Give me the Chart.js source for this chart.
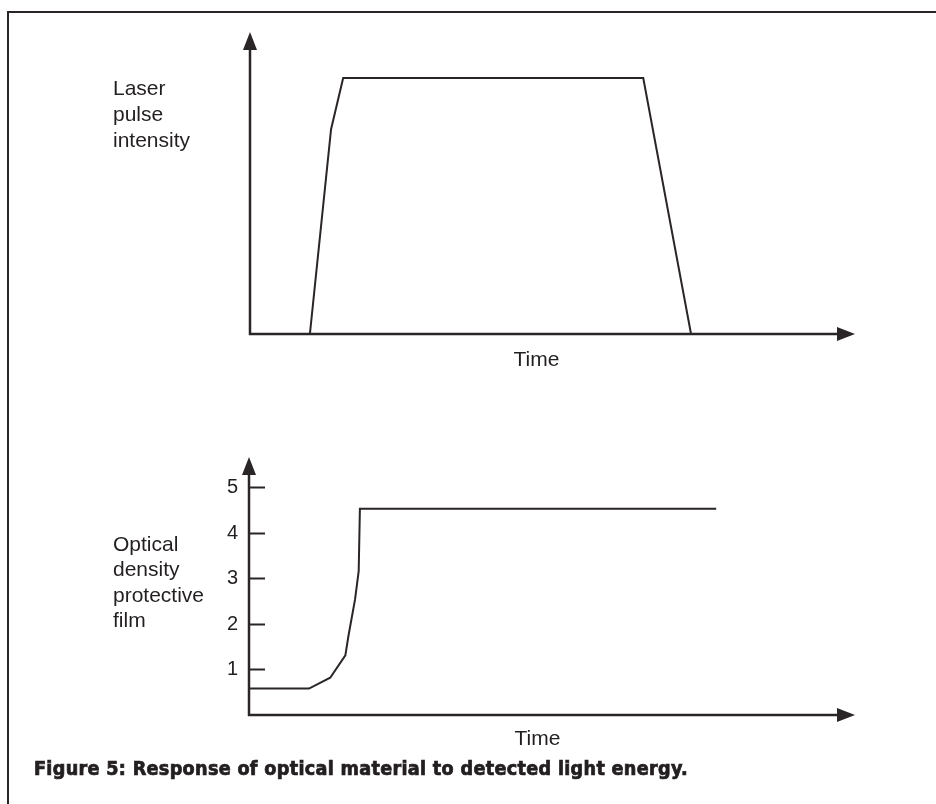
<!DOCTYPE html>
<html>
<head>
<meta charset="utf-8">
<script src="https://cdn.jsdelivr.net/npm/chart.js@4.4.1/dist/chart.umd.min.js"></script>
<style>
  html, body { margin: 0; padding: 0; background: #ffffff; }
  body { width: 936px; height: 804px; position: relative; overflow: hidden; }
  canvas { position: absolute; left: 0; top: 0; }
  .frame { position: absolute; left: 7px; top: 11px; width: 940px; height: 800px;
           border-top: 2.5px solid #2a2526; border-left: 2.5px solid #2a2526; }
  .lbl { position: absolute; font-family: "Liberation Sans", Arial, sans-serif; font-size: 21px;
         color: #231f20; line-height: 26px; white-space: nowrap; }
  .cap { position: absolute; left: 34px; top: 756px; font-family: "DejaVu Sans Condensed", "DejaVu Sans", sans-serif;
         font-weight: bold; font-size: 19px; color: #231f20; white-space: nowrap; transform-origin: 0 0; line-height: 24px;
         -webkit-text-stroke: 0.7px #231f20; letter-spacing: 0.3px; }
</style>
</head>
<body>
<div class="frame"></div>
<canvas id="top" width="936" height="804"></canvas>
<canvas id="bottom" width="936" height="804"></canvas>
<div class="lbl" style="left:113px; top:75px;">Laser<br>pulse<br>intensity</div>
<div class="lbl" style="left:113px; top:531px; line-height:25.3px;">Optical<br>density<br>protective<br>film</div>
<div class="lbl" style="left:513px; top:346px; width:47px; text-align:center;">Time</div>
<div class="lbl" style="left:514px; top:725px; width:47px; text-align:center;">Time</div>
<div class="cap" id="cap">Figure 5: Response of optical material to detected light energy.</div>
<script>
// ---- data ----
const timeTop      = [0, 0.99, 1.34, 1.54, 6.50, 7.29];
const intensity    = [0, 0, 0.80, 1.0, 1.0, 0];
const timeBottom   = [0, 0.99, 1.34, 1.59, 1.64, 1.75, 1.81, 1.83, 7.71];
const density      = [0.58, 0.58, 0.82, 1.31, 1.73, 2.54, 3.16, 4.53, 4.53];
const densityTicks = [1, 2, 3, 4, 5];

const INK = '#2a2526';

const arrowAxes = {
  id: 'arrowAxes',
  afterDraw(chart, args, opts) {
    const ctx = chart.ctx, a = chart.chartArea;
    ctx.save();
    ctx.strokeStyle = INK; ctx.fillStyle = INK; ctx.lineWidth = 2.5; ctx.lineCap = 'butt';
    const L = 18, H = 7;
    // y axis
    ctx.beginPath(); ctx.moveTo(a.left, a.bottom + 1); ctx.lineTo(a.left, a.top + L - 2); ctx.stroke();
    ctx.beginPath(); ctx.moveTo(a.left, a.top); ctx.lineTo(a.left - H, a.top + L); ctx.lineTo(a.left + H, a.top + L); ctx.closePath(); ctx.fill();
    // x axis
    ctx.beginPath(); ctx.moveTo(a.left - 1, a.bottom); ctx.lineTo(a.right - L + 2, a.bottom); ctx.stroke();
    ctx.beginPath(); ctx.moveTo(a.right, a.bottom); ctx.lineTo(a.right - L, a.bottom - H); ctx.lineTo(a.right - L, a.bottom + H); ctx.closePath(); ctx.fill();
    // inside tick marks
    if (opts.ticks) {
      const ys = chart.scales.y;
      ctx.lineWidth = 2;
      ys.ticks.forEach(t => {
        const py = Math.round(ys.getPixelForValue(t.value)) + 0.5;
        ctx.beginPath(); ctx.moveTo(a.left, py); ctx.lineTo(a.left + 16, py); ctx.stroke();
      });
    }
    ctx.restore();
  }
};

function baseOptions() {
  return {
    responsive: false, animation: false, devicePixelRatio: 1,
    plugins: { legend: { display: false }, tooltip: { enabled: false } },
    elements: { point: { radius: 0 }, line: { tension: 0 } },
  };
}

// top chart: laser pulse intensity
const optTop = baseOptions();
optTop.layout = { padding: { left: 250, right: 81, top: 32, bottom: 470 } };
optTop.scales = {
  x: { type: 'linear', min: 0, max: 10, display: false },
  y: { type: 'linear', min: 0, max: 1.18, display: false }
};
optTop.plugins.arrowAxes = { ticks: false };
new Chart(document.getElementById('top'), {
  type: 'line',
  data: { datasets: [{ data: timeTop.map((t, i) => ({ x: t, y: intensity[i] })),
                       borderColor: INK, borderWidth: 2, fill: false }] },
  options: optTop,
  plugins: [arrowAxes]
});

// bottom chart: optical density
const optBot = baseOptions();
optBot.layout = { padding: { left: 209, right: 81, top: 457, bottom: 89 } };
optBot.scales = {
  x: { type: 'linear', min: 0, max: 10, display: false },
  y: { type: 'linear', min: 0, max: 5.67,
       afterBuildTicks: s => { s.ticks = densityTicks.map(v => ({ value: v })); },
       afterFit: s => { s.width = 40; },
       grid: { display: false, drawTicks: false },
       border: { display: false },
       ticks: { padding: 11, color: '#231f20',
                font: { family: 'Liberation Sans', size: 20 } } }
};
optBot.plugins.arrowAxes = { ticks: true };
new Chart(document.getElementById('bottom'), {
  type: 'line',
  data: { datasets: [{ data: timeBottom.map((t, i) => ({ x: t, y: density[i] })),
                       borderColor: INK, borderWidth: 2, fill: false }] },
  options: optBot,
  plugins: [arrowAxes]
});

// fit caption width to the reference (34 -> 688 px)
const cap = document.getElementById('cap');
const w = cap.getBoundingClientRect().width;
cap.style.transform = 'scaleX(' + (654 / w) + ')';
</script>
</body>
</html>
